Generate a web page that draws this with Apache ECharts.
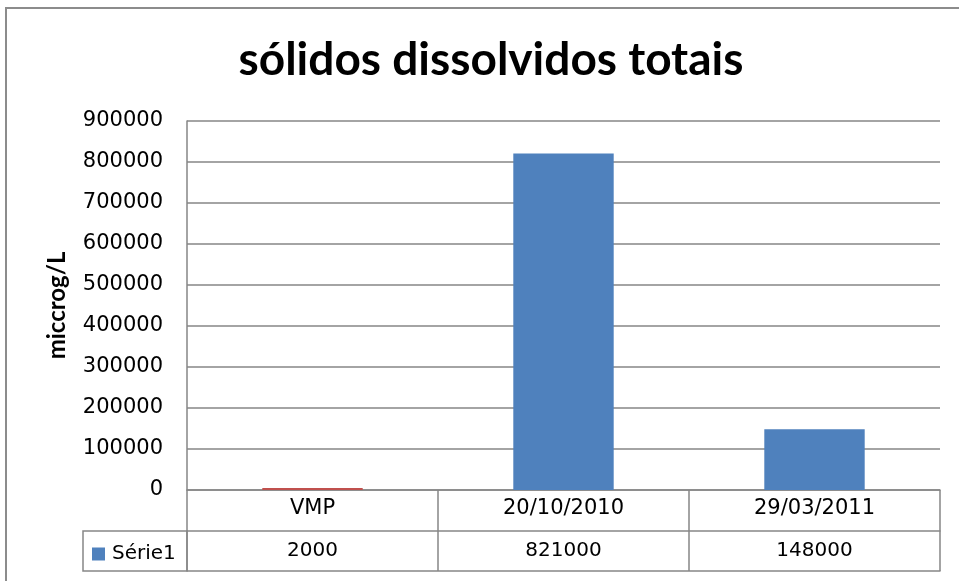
<!DOCTYPE html>
<html>
<head>
<meta charset="utf-8">
<script src="https://cdn.jsdelivr.net/npm/echarts@6/dist/echarts.min.js"></script>
<style>
html,body{margin:0;padding:0;background:#fff;}
#c{width:959px;height:581px;}
</style>
</head>
<body>
<div id="c"></div>
<script>
const titleText = 'sólidos dissolvidos totais';
const yAxisName = 'miccrog/L';
const seriesName = 'Série1';
const categories = ['VMP', '20/10/2010', '29/03/2011'];
const values = [2000, 821000, 148000];
const barColors = ['#C0504D', '#4F81BD', '#4F81BD'];
const yTicks = [0, 100000, 200000, 300000, 400000, 500000, 600000, 700000, 800000, 900000];

const lineColor = '#868686';
const numFont = 'DejaVu Sans';
const titleFont = 'Lato';
const chart = echarts.init(document.getElementById('c'), null, {renderer: 'canvas'});

const option = {
  animation: false,
  backgroundColor: '#fff',
  title: {
    text: titleText,
    left: 486,
    top: 32,
    textAlign: 'center',
    textStyle: {fontFamily: titleFont, fontWeight: 'bold', fontSize: 46, color: '#000'}
  },
  legend: {
    left: 92, top: 544,
    itemWidth: 13, itemHeight: 13,
    icon: 'rect',
    data: [{name: seriesName, icon: 'rect'}],
    textStyle: {fontFamily: numFont, fontSize: 20, color: '#000', padding: [0, 0, 0, 2]},
    padding: 0
  },
  grid: {left: 187, right: 19, top: 121, bottom: 91, containLabel: false},
  xAxis: [
    {
      type: 'category', data: categories, position: 'bottom',
      axisLine: {show: true, lineStyle: {color: lineColor, width: 1.5}},
      axisTick: {show: true, length: 81, alignWithLabel: false, interval: 0, lineStyle: {color: lineColor, width: 1.5}},
      axisLabel: {interval: 0, margin: 19, verticalAlign: 'middle', fontFamily: numFont, fontSize: 21, color: '#000'},
      splitLine: {show: false}
    },
    {
      type: 'category', data: values.map(v => String(v)), position: 'bottom', offset: 41,
      axisLine: {show: true, lineStyle: {color: lineColor, width: 1.5}},
      axisTick: {show: true, length: 40, alignWithLabel: false, interval: 0, lineStyle: {color: lineColor, width: 1.5}},
      axisLabel: {interval: 0, margin: 20, verticalAlign: 'middle', fontFamily: numFont, fontSize: 20, color: '#000'},
      splitLine: {show: false}
    },
    {
      type: 'category', data: categories, position: 'bottom', offset: 81,
      axisLine: {show: true, lineStyle: {color: lineColor, width: 1.5}},
      axisTick: {show: false}, axisLabel: {show: false}, splitLine: {show: false}
    }
  ],
  yAxis: {
    type: 'value', min: yTicks[0], max: yTicks[yTicks.length - 1], interval: yTicks[1] - yTicks[0],
    name: yAxisName, nameLocation: 'middle', nameRotate: 90, nameGap: 118,
    nameTextStyle: {fontFamily: titleFont, fontWeight: 'bold', fontSize: 24, color: '#000'},
    axisLine: {show: true, lineStyle: {color: lineColor, width: 1.5}},
    axisTick: {show: false},
    axisLabel: {margin: 24, fontFamily: numFont, fontSize: 21, color: '#000', formatter: v => String(v)},
    splitLine: {show: true, lineStyle: {color: lineColor, width: 1.5}}
  },
  series: [{
    name: seriesName, type: 'bar', xAxisIndex: 0,
    barCategoryGap: '60%',
    barMinHeight: 2,
    itemStyle: {color: '#4F81BD'},
    data: values.map((v, i) => ({value: v, itemStyle: {color: barColors[i]}}))
  }],
  graphic: [
    {type: 'rect', shape: {x: 6, y: 8, width: 1000, height: 700}, style: {fill: 'none', stroke: '#8c8c8c', lineWidth: 2}, silent: true, z: 0},
    {type: 'rect', shape: {x: 83, y: 531, width: 104, height: 40}, style: {fill: 'none', stroke: lineColor, lineWidth: 1.5}, silent: true}
  ]
};
chart.setOption(option);
</script>
</body>
</html>
